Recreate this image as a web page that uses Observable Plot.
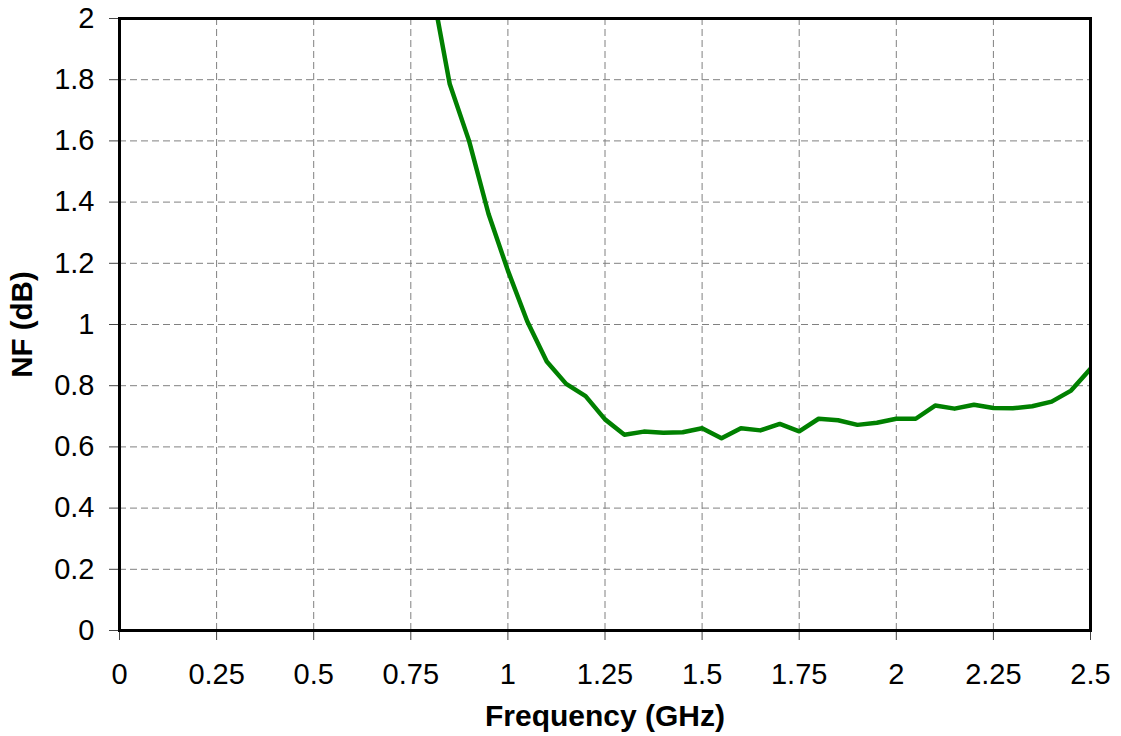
<!DOCTYPE html>
<html>
<head>
<meta charset="utf-8">
<script src="https://cdn.jsdelivr.net/npm/d3@7"></script>
<script src="https://cdn.jsdelivr.net/npm/@observablehq/plot@0.6"></script>
<style>
  html, body { margin: 0; padding: 0; background: #fff; }
  #chart svg { display: block; }
</style>
</head>
<body>
<div id="chart"></div>
<script>
const freq = [0.8,0.85,0.9,0.95,1.0,1.05,1.1,1.15,1.2,1.25,1.3,1.35,1.4,1.45,1.5,1.55,1.6,1.65,1.7,1.75,1.8,1.85,1.9,1.95,2.0,2.05,2.1,2.15,2.2,2.25,2.3,2.35,2.4,2.45,2.5];
const nf = [2.13,1.787,1.60,1.362,1.176,1.01,0.879,0.806,0.766,0.690,0.640,0.650,0.646,0.648,0.661,0.628,0.661,0.654,0.675,0.651,0.692,0.687,0.672,0.679,0.692,0.692,0.735,0.725,0.738,0.727,0.726,0.733,0.748,0.784,0.855];
const xTicks = [0,0.25,0.5,0.75,1,1.25,1.5,1.75,2,2.25,2.5];
const yTicks = [0,0.2,0.4,0.6,0.8,1,1.2,1.4,1.6,1.8,2];
const xLabel = "Frequency (GHz)";
const yLabel = "NF (dB)";

const data = freq.map((f, i) => ({f, v: nf[i]}));
const font = "'Liberation Sans', Arial, sans-serif";

const chart = Plot.plot({
  width: 1121,
  height: 736,
  marginLeft: 119,
  marginRight: 31,
  marginTop: 18,
  marginBottom: 106,
  style: {fontFamily: font, fontSize: "29px", color: "#000", background: "#fff"},
  x: {domain: [0, 2.5], axis: null},
  y: {domain: [0, 2], axis: null},
  marks: [
    Plot.gridX(xTicks, {stroke: "#808080", strokeOpacity: 1, strokeWidth: 1, strokeDasharray: "7,4"}),
    Plot.gridY(yTicks, {stroke: "#808080", strokeOpacity: 1, strokeWidth: 1, strokeDasharray: "7,4"}),
    Plot.axisX(xTicks, {anchor: "bottom", tickSize: 10, tickPadding: 23, tickFormat: d => String(d), fontSize: 29, stroke: "#444", fill: "#000", label: null}),
    Plot.axisY(yTicks, {anchor: "left", tickSize: 10, tickPadding: 15, tickFormat: d => String(d), fontSize: 29, stroke: "#444", fill: "#000", label: null}),
    Plot.line(data, {x: "f", y: "v", stroke: "#008000", strokeWidth: 4.5, clip: true}),
    Plot.frame({stroke: "#000", strokeWidth: 3}),
    Plot.text([xLabel], {frameAnchor: "bottom", dy: 95, text: d => d, fontSize: 30, fontWeight: "bold", fill: "#000", textAnchor: "middle"}),
    Plot.text([yLabel], {frameAnchor: "left", dx: -97, rotate: -90, text: d => d, fontSize: 29.5, fontWeight: "bold", fill: "#000", textAnchor: "middle"})
  ]
});
document.getElementById("chart").appendChild(chart);
</script>
</body>
</html>
